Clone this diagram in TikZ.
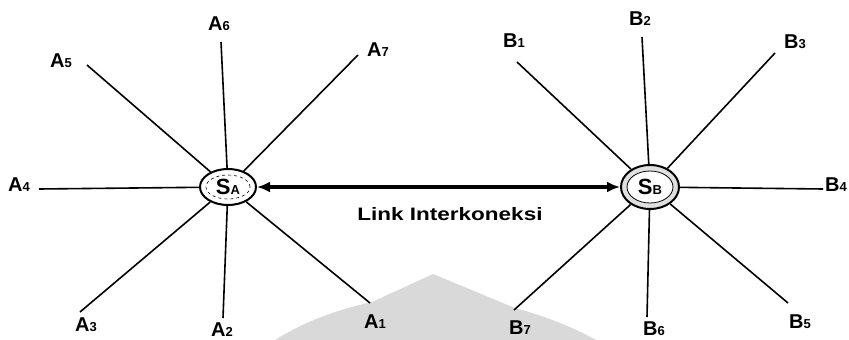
\documentclass[tikz,border=0pt]{standalone}
\usepackage{fontspec}
\setmainfont{Liberation Sans}
\usepackage{graphicx}
\usetikzlibrary{arrows.meta,shapes.geometric}
\tikzset{
  base/.style={inner sep=0pt, text=black},
  lab/.style={base, font=\bfseries\fontsize{20}{20}\selectfont},
  hub/.style={base, ellipse, draw=black, line width=2pt, fill=white, font=\bfseries\fontsize{22}{22}\selectfont},
  spoke/.style={line width=1.6pt, draw=black},
  link/.style={{Latex[length=13pt,width=11pt]}-{Latex[length=13pt,width=11pt]}, line width=3.8pt, draw=black},
  wmark/.style={fill=black!15, draw=none},
}
\newcommand{\idx}[2]{#1{\fontsize{13}{13}\selectfont #2}}

\begin{document}
\begin{tikzpicture}[x=1pt,y=-1pt]
  \useasboundingbox (0,0) rectangle (849,340);
  % watermark at the bottom
  \fill[wmark] (275,340) .. controls (310,318) and (345,308) .. (372,302) -- (433,274)
    -- (515,308) .. controls (545,316) and (575,328) .. (596,340) -- cycle;
  % the two hubs
  \node[hub, minimum width=56pt, minimum height=36pt] (sa) at (228,187) {\idx{S}{A}};
  \draw[dashed, line width=0.6pt] (sa.center) ellipse [x radius=22pt, y radius=12pt];
  \node[hub, fill=black!12, minimum width=58pt, minimum height=44pt] (sb) at (650,187) {\phantom{\idx{S}{B}}};
  \draw[line width=0.8pt, fill=white] (sb.center) ellipse [x radius=23pt, y radius=16pt];
  \node[base, font=\bfseries\fontsize{22}{22}\selectfont] (sbt) at (sb.center) {\idx{S}{B}};
  % spokes of A
  \foreach \n/\px/\py/\lx/\ly in {1/370/303/375/322, 2/223/318/222/330, 3/80/312/86/325,
      4/39/189/19/185, 5/87/65/61/61, 6/221/42/219/24, 7/358/55/378/50}{
    \coordinate (a\n) at (\px,\py);
    \draw[spoke] (sa) -- (a\n);
    \node[lab] (la\n) at (\lx,\ly) {\idx{A}{\n}};
  }
  % spokes of B
  \foreach \n/\px/\py/\lx/\ly in {1/517/62/514/41, 2/642/37/640/19, 3/775/53/795/42,
      4/823/189/836/185, 5/788/303/800/322, 6/647/317/654/329, 7/514/310/520/328}{
    \coordinate (b\n) at (\px,\py);
    \draw[spoke] (sb) -- (b\n);
    \node[lab] (lb\n) at (\lx,\ly) {\idx{B}{\n}};
  }
  % interconnection link
  \draw[link] (sa) -- (sb);
  \node[base, font=\bfseries\fontsize{18}{18}\selectfont] (lk) at (450,214) {\scalebox{1.25}[1]{Link Interkoneksi}};
\end{tikzpicture}
\end{document}
